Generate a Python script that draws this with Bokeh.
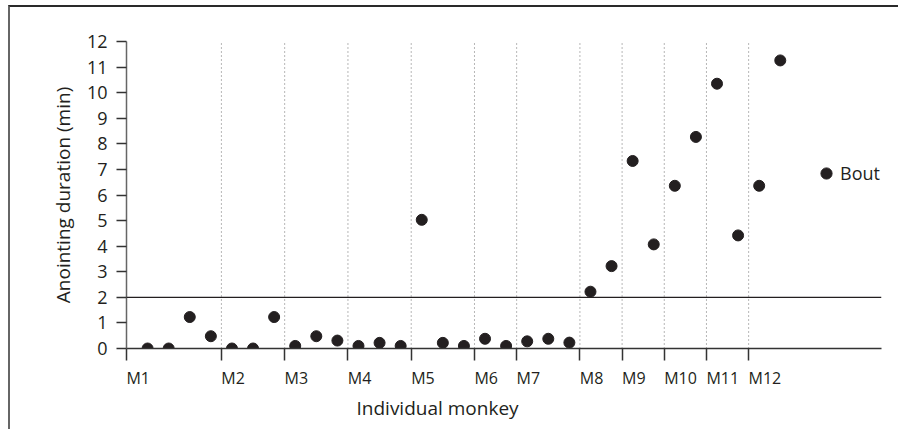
import numpy as np
from bokeh.plotting import figure
from bokeh.models import (FixedTicker, LinearAxis, Span, CustomJSTickFormatter, Range1d, Title)
from bokeh.embed import file_html
from bokeh.resources import INLINE

# ---- data ----
monkeys = ["M1", "M2", "M3", "M4", "M5", "M6", "M7", "M8", "M9", "M10", "M11", "M12"]
bouts_per_monkey = [4, 3, 3, 3, 3, 2, 3, 2, 2, 2, 2, 2]
durations = [0.0, 0.0, 1.23, 0.48, 0.0, 0.0, 1.23, 0.1, 0.48, 0.31, 0.1, 0.22, 0.1,
             5.03, 0.22, 0.1, 0.38, 0.1, 0.28, 0.38, 0.23, 2.22, 3.22, 7.33, 4.07,
             6.36, 8.27, 10.35, 4.42, 6.36, 11.26]
y_ticks = list(range(0, 13))
threshold = 2
series_name = "Bout"
x_title = "Individual monkey"
y_title = "Anointing duration (min)"

# ---- derived positions ----
bout_x = list(range(1, len(durations) + 1))
boundaries = [0.0] + [float(v) + 0.5 for v in np.cumsum(bouts_per_monkey)[:-1]]

FONT = "Open Sans"
TXT = "#231f20"
X_END = 35.8
W, H = 890, 424
ML, MR, MT, MB = 116, 19, 34, 83
px_per_unit = (W - ML - MR) / X_END
lab_px = 16
label_centers = [b + (0.891 + 0.572 * (len(m) - 1)) * lab_px / 2 / px_per_unit
                 for b, m in zip(boundaries, monkeys)]

p = figure(width=W, height=H, output_backend="svg", toolbar_location=None,
           x_range=Range1d(0, X_END), y_range=Range1d(0, 12),
           min_border_left=ML, min_border_right=MR, min_border_top=MT, min_border_bottom=MB,
           outline_line_color=None, background_fill_color="white", border_fill_color="white")
p.styles = {"border-left": "2px solid #666666", "border-top": "2px solid #2a2a2a",
            "margin-left": "8px", "margin-top": "5px"}
p.grid.visible = False

# dotted separators between monkeys
p.segment(x0=boundaries[1:], x1=boundaries[1:], y0=[0] * (len(boundaries) - 1),
          y1=[12] * (len(boundaries) - 1), line_color="#6e6e6e", line_width=1, line_dash="1 3")

p.add_layout(Span(location=threshold, dimension="width", line_color="#231f20", line_width=1.3))

p.scatter(bout_x, durations, size=11, color=TXT, legend_label=series_name)

# y axis
ya = p.yaxis[0]
ya.ticker = FixedTicker(ticks=y_ticks)
ya.axis_line_color = "#666666"
ya.axis_line_width = 1.5
ya.major_tick_line_color = "#333333"
ya.major_tick_line_width = 1.3
ya.major_tick_out = 10
ya.major_tick_in = 0
ya.minor_tick_line_color = None
ya.major_label_standoff = 9
ya.major_label_text_font = FONT
ya.major_label_text_font_size = "18px"
ya.major_label_text_color = TXT
ya.axis_label = y_title
ya.axis_label_text_font = FONT
ya.axis_label_text_font_size = "19px"
ya.axis_label_text_font_style = "normal"
ya.axis_label_text_color = TXT
ya.axis_label_standoff = 8

# x axis A: tick marks at monkey boundaries
xa = p.xaxis[0]
xa.ticker = FixedTicker(ticks=boundaries)
xa.formatter = CustomJSTickFormatter(code="return ''")
xa.major_label_text_font_size = "0px"
xa.major_label_standoff = 0
xa.axis_line_color = "#333333"
xa.axis_line_width = 1.3
xa.major_tick_line_color = "#333333"
xa.major_tick_line_width = 1.5
xa.major_tick_out = 12
xa.major_tick_in = 0
xa.minor_tick_line_color = None

# x axis B: labels left-aligned on the boundaries
xb = LinearAxis(ticker=FixedTicker(ticks=label_centers),
                formatter=CustomJSTickFormatter(args=dict(labels=monkeys), code="return labels[index]"))
xb.axis_line_color = None
xb.major_tick_line_color = None
xb.minor_tick_line_color = None
xb.major_tick_out = 0
xb.major_tick_in = 0
xb.major_label_standoff = 6
xb.major_label_text_font = FONT
xb.major_label_text_font_size = "16px"
xb.major_label_text_color = TXT
p.add_layout(xb, "below")

# x title, placed left-aligned under the frame
xt = Title(text=x_title, align="left", offset=230, text_font=FONT, text_font_size="19px",
           text_font_style="normal", text_color=TXT, standoff=2)
p.add_layout(xt, "below")

lg = p.legend[0]
lg.location = (686, 161)
lg.padding = 0
lg.margin = 0
lg.spacing = 0
lg.border_line_color = None
lg.background_fill_alpha = 0
lg.label_text_font = FONT
lg.label_text_font_size = "18px"
lg.label_text_color = TXT
lg.label_standoff = 0
lg.glyph_width = 28
lg.glyph_height = 28

open("out.html", "w").write(file_html(p, INLINE))
